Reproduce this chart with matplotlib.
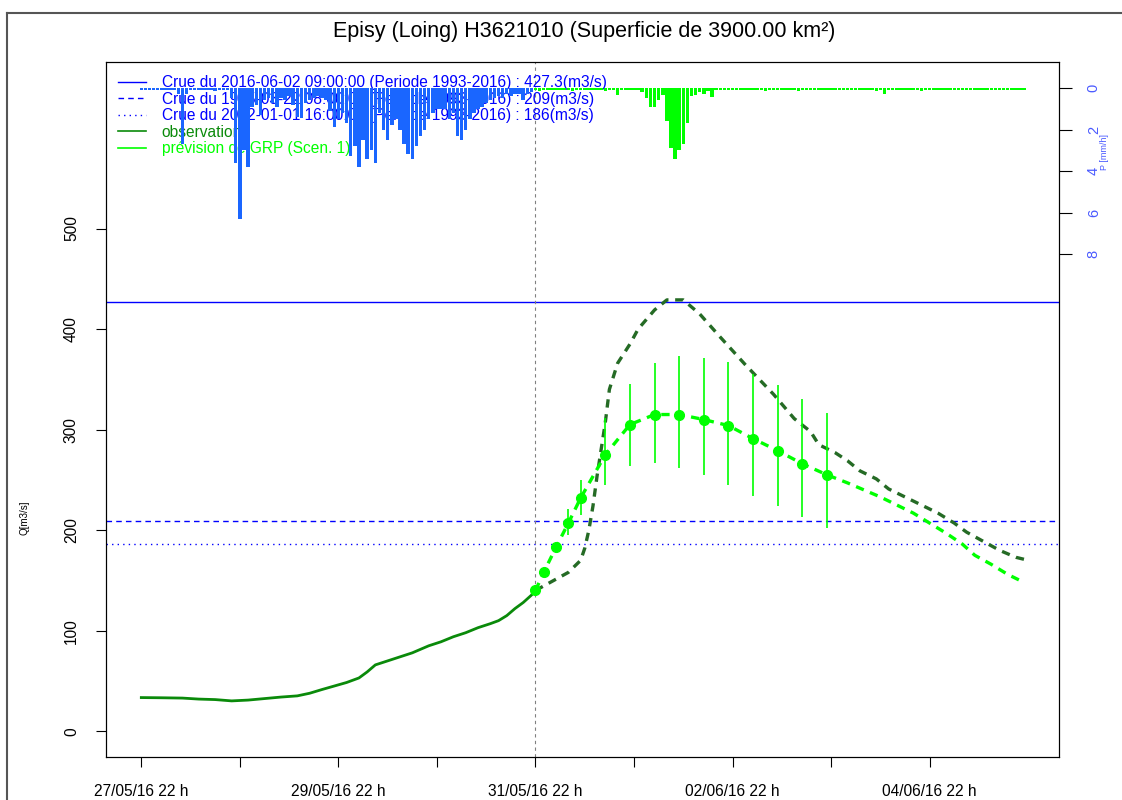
import matplotlib.pyplot as plt
from matplotlib.lines import Line2D

plt.rcParams['font.family'] = ['Liberation Sans', 'DejaVu Sans']

# heures comptées depuis le 27/05/16 22 h
heures_obs = [0, 5, 10, 14, 18, 22, 26, 30, 34, 38, 41, 44, 47, 50, 53, 55,
              57, 60, 63, 66, 70, 73, 76, 79, 82, 85, 87, 89, 91, 93, 96]
debit_obs = [33.5, 33.3, 33, 32, 31.5, 30.2, 31, 32.5, 34, 35.2, 37.8, 41.5,
             45, 48.5, 53, 59, 66, 70, 74, 78, 85, 89, 94, 98, 103, 107, 110,
             115, 122, 128, 139]

# débit observé après l'instant de prévision (tireté foncé)
heures_obs_fut = [96, 100, 104, 107, 108, 109, 110, 111, 113, 114, 116, 119,
                  121, 125, 128, 132, 136, 141, 147, 154, 159, 163, 165, 169,
                  172, 175, 179, 182, 186, 190, 194, 198, 201, 205, 209, 213,
                  216]
debit_obs_fut = [140, 149, 158, 170, 182, 200, 224, 254, 307, 340, 366, 385,
                 400, 419, 429, 429, 415, 392, 365, 335, 311, 298, 285, 277,
                 269, 259, 251, 241, 233, 225, 217, 207, 198, 189, 180, 173,
                 170]

# prévision GRP (Scen. 1) : points avec intervalle
heures_prev = [96, 98, 101, 104, 107, 113, 119, 125, 131, 137, 143, 149, 155,
               161, 167]
debit_prev = [140, 158, 183, 207, 232, 275, 305, 315, 315, 310, 304, 291, 279,
              266, 255]
prev_bas = [140, 158, 183, 195, 215, 245, 264, 267, 262, 255, 245, 234, 224,
            213, 202]
prev_haut = [140, 158, 183, 221, 250, 312, 345, 366, 373, 371, 367, 355, 344,
             330, 317]
# suite de la prévision sans intervalle
heures_queue = [172, 176, 180, 184, 188, 192, 196, 200, 203, 207, 211, 215]
debit_queue = [247, 240, 233, 225, 217, 207, 197, 186, 175, 166, 156, 148]

# pluie horaire observée (h 0 à 95) et prévue (h 96 à 215), en mm/h
pluie_obs = [0.1, 0.1, 0.1, 0.12, 0.1, 0.1, 0.1, 0.1, 0.1, 0.3,
             2.7, 0.3, 0.1, 0.1, 0.12, 0.1, 0.1, 0.1, 0.15, 0.1,
             0.1, 0.1, 0.5, 3.6, 6.3, 3.0, 3.8, 0.9, 0.8, 1.3,
             0.6, 0.5, 0.7, 0.9, 0.5, 0.6, 0.4, 0.8, 1.4, 1.45,
             0.7, 0.6, 0.5, 0.4, 0.5, 0.6, 1.1, 1.9, 1.5, 1.2,
             1.7, 3.3, 2.8, 3.8, 2.5, 3.4, 3.0, 3.6, 1.2, 2.0,
             2.5, 1.8, 1.5, 2.0, 2.7, 3.2, 3.4, 2.8, 2.3, 2.0,
             1.5, 1.2, 1.0, 1.0, 1.0, 1.5, 1.2, 2.3, 2.5, 2.0,
             1.5, 1.2, 1.0, 0.9, 0.7, 0.6, 0.5, 0.4, 0.5, 0.3,
             0.4, 0.3, 0.3, 0.6, 0.3, 0.2]
pluie_prev = [0.1, 0.15, 0.1, 0.1, 0.1, 0.12, 0.1, 0.1, 0.1, 0.15,
              0.1, 0.1, 0.12, 0.1, 0.1, 0.1, 0.1, 0.15, 0.1, 0.1,
              0.35, 0.1, 0.1, 0.12, 0.1, 0.1, 0.2, 0.5, 0.9, 0.9,
              0.6, 0.35, 1.6, 2.9, 3.4, 3.0, 2.7, 1.7, 0.4, 0.35,
              0.2, 0.3, 0.15, 0.45, 0.1, 0.12, 0.1, 0.1, 0.1, 0.1,
              0.1, 0.12, 0.1, 0.1, 0.1, 0.1, 0.15, 0.1, 0.1, 0.1,
              0.1, 0.1, 0.12, 0.1, 0.15, 0.1, 0.1, 0.1, 0.1, 0.1,
              0.12, 0.1, 0.1, 0.1, 0.1, 0.1, 0.1, 0.12, 0.1, 0.1,
              0.1, 0.1, 0.1, 0.15, 0.1, 0.3, 0.12, 0.1, 0.1, 0.1,
              0.1, 0.1, 0.1, 0.1, 0.15, 0.1, 0.1, 0.1, 0.12, 0.1,
              0.1, 0.1, 0.1, 0.1, 0.12, 0.1, 0.1, 0.1, 0.1, 0.1,
              0.1, 0.12, 0.1, 0.1, 0.1, 0.1, 0.1, 0.1, 0.1, 0.1]

# crues de référence
seuils = [427.3, 209, 186]
libelles_crues = [
    "Crue du 2016-06-02 09:00:00 (Periode 1993-2016) : 427.3(m3/s)",
    "Crue du 1995-03-22 08:00:00 (Periode 1993-2016) : 209(m3/s)",
    "Crue du 2002-01-01 16:00:00 (Periode 1993-2016) : 186(m3/s)",
]
styles_crues = ['-', (0, (4, 3)), (0, (1, 3))]

dates_ticks = ['27/05/16 22 h', '', '29/05/16 22 h', '', '31/05/16 22 h', '',
               '02/06/16 22 h', '', '04/06/16 22 h']

VERT_OBS = '#0a8a0a'
VERT_FONCE = '#256b25'
VERT_PREV = '#00ff00'
BLEU_PLUIE = '#1a66ff'
BLEU_AXE = '#4a5aff'

fig = plt.figure(figsize=(11.22, 8), dpi=100)
ax = fig.add_axes([106 / 1122, 43 / 800, 953 / 1122, 695 / 800])

for s, st in zip(seuils, styles_crues):
    ax.axhline(s, color='blue', lw=1, ls=st)
ax.axvline(96, color='grey', lw=0.8, ls=(0, (3, 3)))

ax.plot(heures_obs, debit_obs, color=VERT_OBS, lw=2)
ax.plot(heures_obs_fut, debit_obs_fut, color=VERT_FONCE, lw=2.4,
        ls=(0, (2.5, 2)))
ax.plot(heures_prev + heures_queue, debit_prev + debit_queue,
        color=VERT_PREV, lw=2.4, ls=(0, (2.5, 2)))
ax.vlines(heures_prev, prev_bas, prev_haut, color=VERT_PREV, lw=1.2)
ax.plot(heures_prev, debit_prev, 'o', color=VERT_PREV, ms=7)

ax.set_xlim(-8.6, 223.5)
ax.set_ylim(-25.6, 665.6)
ax.set_xticks(range(0, 193, 24))
ax.set_xticklabels(dates_ticks)
ax.set_yticks(range(0, 501, 100))
ax.set_yticklabels([str(v) for v in range(0, 501, 100)], rotation=90,
                   va='center')
ax.tick_params(axis='both', direction='out', length=7.5, width=0.8,
               pad=12, labelsize=11.2)

# légende
poignees = [Line2D([], [], color='blue', lw=1, ls=st) for st in styles_crues]
poignees += [Line2D([], [], color=VERT_OBS, lw=1.2),
             Line2D([], [], color=VERT_PREV, lw=1.2)]
libelles = libelles_crues + ['observation', 'prévision de GRP (Scen. 1)']
ax.legend(poignees, libelles, loc='upper left', bbox_to_anchor=(0.0126, 0.981),
          frameon=False, fontsize=11.2, handlelength=1.8, handletextpad=1.0,
          labelspacing=0.1, borderpad=0, borderaxespad=0,
          labelcolor=['blue', 'blue', 'blue', VERT_OBS, VERT_PREV])

# pluie sur axe secondaire inversé
ax2 = ax.twinx()
ax2.bar(range(0, 96), pluie_obs, width=0.85, color=BLEU_PLUIE)
ax2.bar(range(96, 216), pluie_prev, width=0.85, color=VERT_PREV)
ax2.set_ylim(32.24, -1.253)
ax2.set_yticks([0, 2, 4, 6, 8])
ax2.set_yticklabels(['0', '2', '4', '6', '8'], rotation=90, va='center')
ax2.tick_params(axis='y', direction='out', length=9, width=0.8, pad=11,
                labelsize=10.5, labelcolor=BLEU_AXE)

fig.text(584 / 1122, 1 - 32 / 800,
         'Episy (Loing) H3621010 (Superficie de 3900.00 km²)',
         ha='center', va='center', fontsize=15.5)
fig.text(25 / 1122, 1 - 518 / 800, 'Q[m3/s]', rotation=90, ha='center',
         va='center', fontsize=7)
fig.text(1104.5 / 1122, 1 - 152 / 800, 'P [mm/h]', rotation=90, ha='center',
         va='center', fontsize=6.5, color=BLEU_AXE)

# cadre extérieur
fig.add_artist(Line2D([7 / 1122, 7 / 1122], [0, 1 - 13 / 800],
                      transform=fig.transFigure, color='#555555', lw=1.5))
fig.add_artist(Line2D([7 / 1122, 1], [1 - 13 / 800, 1 - 13 / 800],
                      transform=fig.transFigure, color='#555555', lw=1.5))

fig.savefig('out.png', dpi=100)
